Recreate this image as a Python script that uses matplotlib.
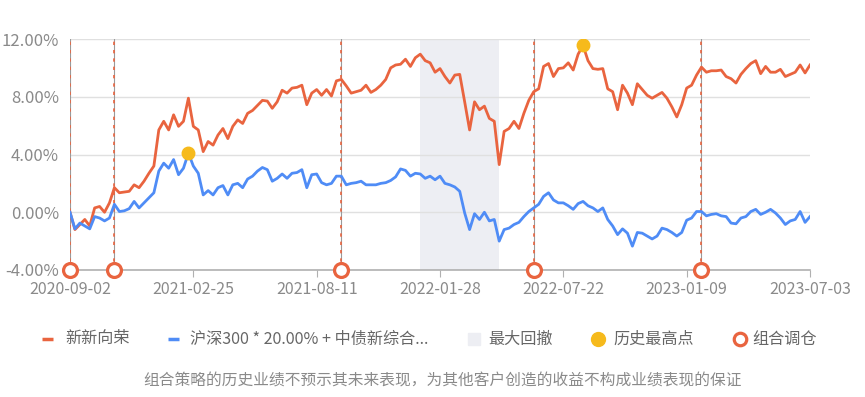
import matplotlib
matplotlib.use("Agg")
import matplotlib.pyplot as plt
import numpy as np

plt.rcParams["font.family"] = ["Noto Sans CJK SC", "DejaVu Sans"]

# category axis (trading days, sampled), values in %
x_labels = ["2020-09-02", "2021-02-25", "2021-08-11", "2022-01-28",
            "2022-07-22", "2023-01-09", "2023-07-03"]

portfolio = [
    0.0, -1.2, -0.85, -0.5, -0.95, 0.3, 0.4, 0.0, 0.65, 1.7,
    1.35, 1.4, 1.45, 1.9, 1.7, 2.15, 2.7, 3.2, 5.7, 6.3,
    5.7, 6.75, 5.95, 6.3, 7.9, 5.95, 5.7, 4.2, 4.9, 4.65,
    5.35, 5.8, 5.1, 5.95, 6.4, 6.15, 6.85, 7.05, 7.4, 7.75,
    7.7, 7.2, 7.65, 8.45, 8.25, 8.6, 8.65, 8.8, 7.45, 8.25,
    8.5, 8.1, 8.5, 8.05, 9.1, 9.2, 8.75, 8.25, 8.35, 8.45,
    8.8, 8.3, 8.5, 8.8, 9.2, 10.0, 10.2, 10.25, 10.6, 10.1,
    10.7, 10.95, 10.5, 10.35, 9.7, 9.95, 9.4, 8.95, 9.5, 9.55,
    7.65, 5.7, 7.65, 7.1, 7.35, 6.5, 6.3, 3.3, 5.6, 5.8,
    6.3, 5.8, 6.85, 7.75, 8.35, 8.55, 10.1, 10.3, 9.4, 9.95,
    10.0, 10.35, 9.85, 10.95, 11.55, 10.5, 9.95, 9.9, 9.95, 8.55,
    8.35, 7.1, 8.8, 8.25, 7.45, 8.9, 8.5, 8.1, 7.9, 8.1,
    8.3, 7.9, 7.3, 6.6, 7.45, 8.6, 8.8, 9.5, 10.05, 9.7,
    9.8, 9.8, 9.85, 9.4, 9.25, 8.95, 9.55, 9.95, 10.3, 10.5,
    9.6, 10.1, 9.7, 9.7, 9.9, 9.4, 9.55, 9.7, 10.2, 9.65,
    10.2,
]

benchmark = [
    0.0, -1.15, -0.75, -0.95, -1.15, -0.3, -0.4, -0.6, -0.4, 0.55,
    0.05, 0.1, 0.25, 0.75, 0.3, 0.65, 1.0, 1.35, 2.85, 3.4,
    3.05, 3.65, 2.6, 3.05, 4.1, 3.2, 2.7, 1.2, 1.5, 1.2,
    1.7, 1.85, 1.2, 1.9, 2.0, 1.7, 2.3, 2.5, 2.85, 3.1,
    2.95, 2.15, 2.35, 2.65, 2.35, 2.7, 2.75, 2.95, 1.7, 2.6,
    2.65, 2.05, 1.9, 2.0, 2.5, 2.5, 1.9, 2.0, 2.05, 2.15,
    1.9, 1.9, 1.9, 2.0, 2.05, 2.2, 2.45, 3.0, 2.9, 2.5,
    2.7, 2.65, 2.35, 2.5, 2.25, 2.5, 2.0, 1.9, 1.75, 1.45,
    -0.05, -1.2, -0.1, -0.5, 0.0, -0.6, -0.5, -2.0, -1.2, -1.1,
    -0.85, -0.7, -0.3, 0.05, 0.3, 0.55, 1.1, 1.35, 0.85, 0.65,
    0.65, 0.45, 0.2, 0.6, 0.75, 0.45, 0.3, 0.05, 0.3, -0.5,
    -0.95, -1.55, -1.15, -1.45, -2.35, -1.4, -1.45, -1.65, -1.85, -1.65,
    -1.1, -1.2, -1.4, -1.65, -1.4, -0.55, -0.4, 0.05, 0.05, -0.25,
    -0.15, -0.1, -0.25, -0.3, -0.75, -0.8, -0.4, -0.3, 0.05, 0.2,
    -0.15, 0.0, 0.2, -0.05, -0.4, -0.85, -0.6, -0.5, 0.05, -0.7,
    -0.3,
]

rebalance_idx = [0, 9, 55, 94, 128]
drawdown_range = (71, 87)
peak_portfolio_idx = 104
peak_benchmark_idx = 24

RED = "#E9643F"
BLUE = "#4F8CF6"
GOLD = "#F6BA1C"
SHADE = "#EDEEF3"
GREY_TXT = "#8A8A8A"

fig = plt.figure(figsize=(8.65, 3.97), dpi=100)
ax = fig.add_axes([70 / 865, 1 - 270 / 397, 740 / 865, 231 / 397])

x = np.arange(len(portfolio))
n = len(portfolio) - 1

ax.axvspan(drawdown_range[0], drawdown_range[1], color=SHADE, lw=0, zorder=0)

for i in rebalance_idx:
    ax.axvline(i, color="#9a9a9a", lw=0.8, zorder=1)
    ax.axvline(i, color=RED, lw=1.2, ls=(0, (2, 3)), zorder=1.5)

ax.plot(x, portfolio, color=RED, lw=2.0, zorder=3, solid_joinstyle="round")
ax.plot(x, benchmark, color=BLUE, lw=2.0, zorder=3, solid_joinstyle="round")

ax.plot(peak_portfolio_idx, portfolio[peak_portfolio_idx], "o", color=GOLD,
        ms=9, zorder=4)
ax.plot(peak_benchmark_idx, benchmark[peak_benchmark_idx], "o", color=GOLD,
        ms=9, zorder=4)

ax.plot(rebalance_idx, [-4] * len(rebalance_idx), "o", mfc="white", mec=RED,
        mew=2.3, ms=10, zorder=5, clip_on=False)

ax.set_xlim(0, n)
ax.set_ylim(-4, 12)
ax.set_yticks([-4, 0, 4, 8, 12])
ax.set_yticklabels(["-4.00%", "0.00%", "4.00%", "8.00%", "12.00%"])
ax.set_xticks(np.linspace(0, n, len(x_labels)))
ax.set_xticklabels(x_labels)
ax.grid(axis="y", color="#E0E0E0", lw=1)
ax.set_axisbelow(True)
for s in ["left", "right", "top"]:
    ax.spines[s].set_visible(False)
ax.spines["bottom"].set_color("#B0B0B0")
ax.spines["bottom"].set_linewidth(1.2)
ax.tick_params(axis="y", length=0, pad=8, labelsize=12, labelcolor=GREY_TXT)
ax.tick_params(axis="x", length=5, color="#B0B0B0", pad=3, labelsize=11.5,
               labelcolor=GREY_TXT)

# legend row and footer, in pixel coords
lax = fig.add_axes([0, 0, 1, 1])
lax.set_xlim(0, 865)
lax.set_ylim(397, 0)
lax.axis("off")

ly = 339
lax.plot([42, 53], [ly, ly], color=RED, lw=2.5, solid_capstyle="butt")
lax.text(65, ly, "新新向荣", va="center", fontsize=11.6, color="#666666")
lax.plot([168, 179], [ly, ly], color=BLUE, lw=2.5, solid_capstyle="butt")
lax.text(190, ly, "沪深300 * 20.00% + 中债新综合...", va="center",
         fontsize=11.6, color="#666666")
lax.plot(474, ly, "s", color=SHADE, ms=9)
lax.text(488, ly, "最大回撤", va="center", fontsize=11.6, color="#666666")
lax.plot(598, ly, "o", color=GOLD, ms=10)
lax.text(613, ly, "历史最高点", va="center", fontsize=11.6, color="#666666")
lax.plot(740, ly, "o", mfc="white", mec=RED, mew=2.3, ms=9)
lax.text(752, ly, "组合调仓", va="center", fontsize=11.6, color="#666666")

lax.text(443, 381, "组合策略的历史业绩不预示其未来表现，为其他客户创造的收益不构成业绩表现的保证",
         ha="center", va="center", fontsize=11.3, color=GREY_TXT)

fig.savefig("out.png", dpi=100)
